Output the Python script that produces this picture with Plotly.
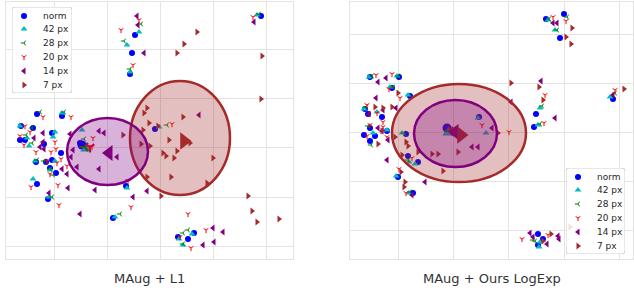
import plotly.graph_objects as go

# ---------------- data (arbitrary embedding units) ----------------
series_names = ["norm", "42 px", "28 px", "20 px", "14 px", "7 px"]

# Left panel: "MAug + L1"
L1_norm = [(135,35),(132,53),(130,74),(261,16),(155,129),(37,114),(62,116),(21,126),(33,128),(52,133),
           (20,140),(25,140),(44,144),(61,153),(80,143),(36,162),(46,162),(52,160),(50,168),(56,173),
           (37,184),(126,186),(48,199),(113,218),(194,233),(178,237),(188,239)]
L1_42 = [(139,32),(127,45),(130,72),(257,15),(159,127),(62,113),(20,126),(55,132),(82,130),(27,138),
         (53,137),(29,146),(55,161),(33,179),(127,188),(49,197),(115,217),(192,234),(179,239),(183,245),
         (35,161),(50,170)]
L1_28 = [(141,24),(124,41),(130,69),(259,14),(167,125),(40,112),(32,128),(26,135),(32,143),(37,160),
         (50,169),(53,175),(52,197),(120,214),(183,233),(188,230),(183,244),(64,112),(44,161),(84,139)]
L1_20 = [(139,20),(121,30),(133,65),(253,17),(172,124),(43,117),(71,117),(25,126),(30,132),(20,136),
         (24,145),(55,142),(51,152),(36,152),(56,149),(93,138),(92,147),(47,161),(57,163),(61,159),
         (67,166),(50,174),(31,187),(58,185),(128,181),(59,205),(131,207),(188,214),(206,230),(180,237),
         (191,248)]
L1_14 = [(137,16),(138,25),(144,53),(254,22),(199,115),(43,133),(70,134),(34,138),(43,142),(40,147),
         (44,149),(99,131),(104,133),(117,157),(73,150),(71,157),(62,169),(77,167),(67,174),(99,169),
         (68,188),(95,190),(49,193),(80,214),(133,197),(147,191),(213,228),(223,232),(214,242),(203,245)]
L1_7 = [(197,32),(184,44),(177,53),(262,56),(261,99),(147,108),(144,113),(183,117),(149,123),(158,126),
        (190,143),(169,140),(150,146),(177,151),(163,153),(166,156),(174,158),(213,158),(171,177),(207,183),
        (147,177),(161,196),(248,196),(252,211),(257,222),(279,219),(123,135),(143,130),(141,144)]
L1_centers = [(82,145),(86,149),(85,147),(90,147),(109,153),(184,141)]
L1_ellipse_7 = (180, 138, 50, 57)      # cx, cy, rx, ry
L1_ellipse_14 = (107.5, 151.5, 40.5, 33.5)

# Right panel: "MAug + Ours LogExp"
LE_norm = [(370,77),(399,77),(392,88),(410,96),(365,109),(368,114),(382,117),(370,128),(375,136),(364,135),
           (370,141),(387,131),(406,134),(418,162),(398,177),(413,193),(546,19),(564,14),(560,38),(536,114),
           (534,127),(613,99),(538,234),(543,239),(538,245),(479,117),(408,156)]
LE_42 = [(369,77),(397,76),(390,87),(408,95),(364,109),(377,112),(373,133),(387,130),(402,133),(409,162),
         (396,176),(409,193),(548,20),(555,30),(540,108),(538,125),(610,97),(540,242),(539,247),(486,133),
         (415,164),(478,118)]
LE_28 = [(372,76),(398,76),(393,87),(366,107),(368,126),(371,145),(404,133),(410,192),(549,19),(567,17),
         (557,30),(542,106),(540,124),(615,93),(533,240),(535,241),(408,160)]
LE_20 = [(376,75),(392,74),(389,89),(400,98),(367,105),(377,113),(383,122),(383,127),(367,136),(387,137),
         (412,158),(399,169),(406,193),(553,17),(566,21),(545,95),(544,123),(615,90),(548,235),(522,239),
         (482,125),(509,132),(370,125)]
LE_14 = [(378,82),(386,78),(376,98),(396,108),(369,114),(378,128),(388,140),(387,160),(412,195),(425,182),
         (472,147),(478,147),(553,23),(557,23),(541,81),(511,102),(555,118),(613,95),(530,233),(533,237),
         (558,236),(559,239),(547,244),(383,110),(382,131),(492,128)]
LE_7 = [(398,93),(375,107),(383,108),(392,107),(382,131),(378,144),(395,137),(406,142),(408,146),(402,155),
        (432,154),(438,154),(458,152),(443,171),(405,182),(404,187),(401,172),(418,152),(572,28),(566,37),
        (571,44),(511,83),(539,87),(543,100),(624,89),(551,234),(498,133),(543,241),(570,227)]
LE_centers = [(447,128),(448,133),(450,131),(452,130),(455,132),(461,135)]
LE_ellipse_7 = (459, 133, 67, 49)
LE_ellipse_14 = (455.5, 133.5, 41.5, 33.5)

titles = ["MAug + L1", "MAug + Ours LogExp"]

# ---------------- styles ----------------
colors = ["#0000ff", "#00bfbf", "#008000", "#ff0000", "#800080", "#a52a2a"]
symbols = ["circle", "triangle-up", "y-left", "y-down", "triangle-left", "triangle-right"]
sizes = [6, 6, 4, 4, 6, 6]
line_w = [0, 0, 1, 1, 0, 0]
center_sizes = [9, 10, 7, 7, 14, 15]

W, H = 634, 290
FONT = "DejaVu Sans"
GRID = "#e3e3e3"

fig = go.Figure()


def add_panel(series, centers, xa, ya):
    for i, pts in enumerate(series):
        fig.add_trace(go.Scatter(
            x=[p[0] for p in pts], y=[p[1] for p in pts], mode="markers",
            xaxis=xa, yaxis=ya, showlegend=False, name=series_names[i],
            marker=dict(symbol=symbols[i], size=sizes[i], color=colors[i],
                        line=dict(width=line_w[i], color=colors[i]))))
    for i, c in enumerate(centers):
        fig.add_trace(go.Scatter(
            x=[c[0]], y=[c[1]], mode="markers", xaxis=xa, yaxis=ya, showlegend=False,
            marker=dict(symbol=symbols[i], size=center_sizes[i], color=colors[i],
                        line=dict(width=line_w[i] * 2, color=colors[i]))))


add_panel([L1_norm, L1_42, L1_28, L1_20, L1_14, L1_7], L1_centers, "x", "y")
add_panel([LE_norm, LE_42, LE_28, LE_20, LE_14, LE_7], LE_centers, "x2", "y2")

shapes = []


def ellipse(e, xr, yr, rgb):
    cx, cy, rx, ry = e
    shapes.append(dict(type="circle", xref=xr, yref=yr, layer="above",
                       x0=cx - rx, x1=cx + rx, y0=cy - ry, y1=cy + ry,
                       fillcolor="rgba(%d,%d,%d,0.3)" % rgb,
                       line=dict(color="rgb(%d,%d,%d)" % rgb, width=2.5)))


ellipse(L1_ellipse_7, "x", "y", (165, 42, 42))
ellipse(L1_ellipse_14, "x", "y", (128, 0, 128))
ellipse(LE_ellipse_7, "x2", "y2", (165, 42, 42))
ellipse(LE_ellipse_14, "x2", "y2", (128, 0, 128))

annotations = []

# manual legends (compact, matplotlib-like)
legend_rows = [9, 22, 36, 50, 64, 78]
for xa, ya, bw in [("x3", "y3", 60), ("x4", "y4", 59)]:
    r = 3
    path = (f"M{r},0 L{bw-r},0 Q{bw},0 {bw},{r} L{bw},{86-r} Q{bw},86 {bw-r},86 "
            f"L{r},86 Q0,86 0,{86-r} L0,{r} Q0,0 {r},0 Z")
    shapes.append(dict(type="path", path=path, xref=xa, yref=ya, layer="below",
                       fillcolor="rgba(255,255,255,0.85)", line=dict(color="#d0d0d0", width=1)))
    for i, name in enumerate(series_names):
        fig.add_trace(go.Scatter(
            x=[12], y=[legend_rows[i]], mode="markers", xaxis=xa, yaxis=ya, showlegend=False,
            marker=dict(symbol=symbols[i], size=sizes[i], color=colors[i],
                        line=dict(width=line_w[i], color=colors[i]))))
        annotations.append(dict(x=29, y=legend_rows[i], xref=xa, yref=ya, text=name,
                                showarrow=False, xanchor="left", yanchor="middle",
                                font=dict(family=FONT, size=9, color="#262626")))

annotations.append(dict(x=149 / W, y=(H - 278) / H, xref="paper", yref="paper", text=titles[0],
                        showarrow=False, xanchor="center", yanchor="middle",
                        font=dict(family=FONT, size=13, color="#333333")))
annotations.append(dict(x=492 / W, y=(H - 278) / H, xref="paper", yref="paper", text=titles[1],
                        showarrow=False, xanchor="center", yanchor="middle",
                        font=dict(family=FONT, size=13, color="#333333")))

main_ax = dict(showticklabels=False, ticks="", zeroline=False, showgrid=True, gridcolor=GRID,
               gridwidth=1.3, showline=True, linecolor=GRID, linewidth=1.3, mirror=True)
hidden_ax = dict(visible=False, showgrid=False, zeroline=False)

ydom = [(H - 259) / H, (H - 2) / H]
fig.update_layout(
    width=W, height=H, margin=dict(l=0, r=0, t=0, b=0),
    paper_bgcolor="white", plot_bgcolor="rgba(0,0,0,0)",
    font=dict(family=FONT),
    xaxis=dict(domain=[6 / W, 293 / W], range=[6, 293], anchor="y",
               tickvals=[54, 107, 160, 213, 266], **main_ax),
    yaxis=dict(domain=ydom, range=[259, 2], anchor="x",
               tickvals=[49, 98, 147, 197, 246], **main_ax),
    xaxis2=dict(domain=[350 / W, 633 / W], range=[350, 633], anchor="y2",
                tickvals=[398, 453, 508, 564, 619], **main_ax),
    yaxis2=dict(domain=ydom, range=[259, 2], anchor="x2",
                tickvals=[34, 83, 132, 181, 230], **main_ax),
    xaxis3=dict(domain=[12 / W, 72 / W], range=[0, 60], anchor="y3", **hidden_ax),
    yaxis3=dict(domain=[(H - 93) / H, (H - 7) / H], range=[86, 0], anchor="x3", **hidden_ax),
    xaxis4=dict(domain=[566 / W, 625 / W], range=[0, 59], anchor="y4", **hidden_ax),
    yaxis4=dict(domain=[(H - 254) / H, (H - 168) / H], range=[86, 0], anchor="x4", **hidden_ax),
    shapes=shapes, annotations=annotations, showlegend=False, hovermode=False,
)

fig.write_html("out.html", config={"displayModeBar": False},
               post_script="document.body.style.margin='0';document.body.style.padding='0';")
